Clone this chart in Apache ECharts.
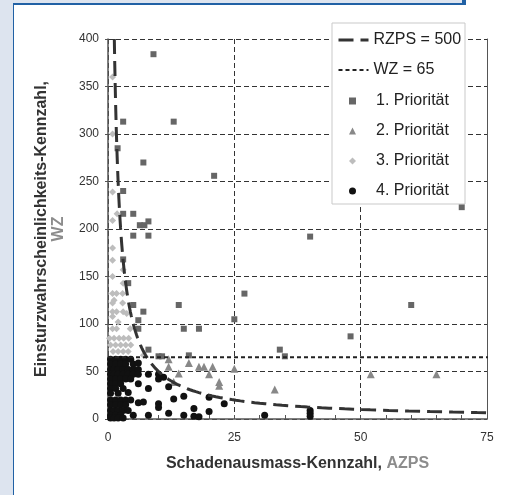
<!DOCTYPE html>
<html>
<head>
<meta charset="utf-8">
<script src="https://cdn.jsdelivr.net/npm/echarts@6/dist/echarts.min.js"></script>
<style>
html, body { margin: 0; padding: 0; background: #dde4ef; }
.blk { position: absolute; }
#main { position: absolute; left: 0; top: 0; width: 507px; height: 495px; }
</style>
</head>
<body>
<div class="blk" style="left:14px;top:5px;width:493px;height:490px;background:#fff"></div>
<div class="blk" style="left:466px;top:0;width:41px;height:5px;background:#fff"></div>
<div class="blk" style="left:13px;top:3px;width:1px;height:492px;background:#2161a5"></div>
<div class="blk" style="left:13px;top:3px;width:450px;height:2px;background:#2161a5"></div>
<div class="blk" style="left:462px;top:0;width:4px;height:5px;background:#2161a5"></div>
<div id="main"></div>
<script>
// reference lines
const RZPS = 500
const WZ_LIMIT = 65
const X_MAX = 75
const Y_MAX = 400
const LINE_END = 75.6 // lines run slightly past the frame in the original

// [AZPS, WZ]
const prio1 = [
    [9, 384], [3, 313], [13, 313], [1.9, 285], [7, 270], [21, 256], [3, 240],
    [3, 216], [5, 216], [6.3, 204], [7.2, 204], [8, 208], [5, 193], [8, 193],
    [3, 168], [4, 143], [5, 120], [14, 120], [7, 113], [6, 104], [6, 95],
    [15, 95], [18, 95], [25, 105], [8, 73], [10, 66], [10.7, 66], [16, 67],
    [40, 192], [27, 132], [60, 120], [48, 87], [34, 73], [35, 66], [70, 223]
]
const prio2 = [
    [12, 63], [12, 55], [13, 39], [14, 48], [16, 59], [18, 55], [19, 55],
    [20.7, 55], [20, 47], [22, 39], [22, 35], [25, 53], [33, 31], [52, 47], [65, 47]
]
const prio3 = [
    [0.9, 360], [0.9, 300], [0.9, 239], [1.8, 216], [0.9, 209], [0.9, 180],
    [0.9, 167], [0.9, 150], [3, 157], [3, 143], [0.9, 132], [1.7, 132], [2.9, 132],
    [1.2, 125], [0.9, 122], [2.9, 122], [0.9, 113], [1.7, 113], [3, 113], [3.7, 111],
    [0.9, 108], [2, 102], [0.9, 95], [1.7, 95], [4.4, 95], [0.3, 85], [1.2, 85],
    [2.2, 85], [3.1, 85], [4.1, 85], [0.5, 78], [1.5, 78], [2.5, 78], [3.5, 78],
    [4.5, 78], [1, 71], [2, 71], [3, 71], [4, 71], [7, 67]
]
const prio4 = [
    [0.5, 63], [1.5, 63], [2.5, 63], [3.5, 63], [4.5, 63],
    [0.5, 58], [1.5, 58], [2.5, 58], [3.5, 58], [5, 58], [6, 59],
    [0.5, 52], [1.2, 52], [2, 52], [3, 52], [4, 52], [5, 52], [6, 52],
    [0.5, 47], [1.2, 47], [2, 47], [3, 47], [4, 47], [5, 47], [6, 47], [8, 47], [10, 47],
    [0.5, 42], [1.5, 42], [2.5, 42], [3.5, 42], [4.5, 42], [10, 42], [11, 44],
    [0.5, 37], [1.5, 37], [2.5, 37], [6, 37], [12, 34],
    [0.5, 32], [1.5, 32], [3, 32], [8, 32],
    [0.5, 27], [2, 27], [4, 28],
    [0.5, 20], [1.5, 20], [2.5, 20], [3.5, 20], [4.5, 20], [6, 17], [7, 18], [10, 16],
    [13, 21], [15, 24], [20, 23],
    [0.5, 15], [1.5, 15], [2.5, 15], [3.5, 15], [10, 12], [17, 11], [23, 16],
    [0.5, 9], [1.2, 9], [2, 9], [3, 9], [4, 9], [12, 6], [20, 8], [40, 9],
    [0.5, 4], [1.5, 4], [2.5, 4], [5, 4], [8, 4], [15, 4], [17, 3], [18, 2.5], [31, 4], [40, 6],
    [0.5, 1], [1.2, 1], [2, 1], [3, 1], [40, 3]
]

// iso-line AZPS * WZ = RZPS
const rzpsLine = []
const x0 = RZPS / Y_MAX
for (let i = 0; i <= 120; i++) {
    const x = x0 * Math.pow(LINE_END / x0, i / 120)
    rzpsLine.push([x, RZPS / x])
}
const wzLine = [[0, WZ_LIMIT], [LINE_END, WZ_LIMIT]]

const font = 'Liberation Sans, Arial, sans-serif'
const axisColor = '#555'
const gridDash = { color: '#333', width: 1, type: [5, 3] }
const noFill = 'rgba(0,0,0,0)'

const chart = echarts.init(document.getElementById('main'), null, { renderer: 'canvas' })
chart.setOption({
    animation: false,
    backgroundColor: 'transparent',
    textStyle: { fontFamily: font },
    grid: { left: 108, right: 20, top: 39, bottom: 76, outerBoundsMode: 'none' },
    graphic: [{
        type: 'rect', z: 3,
        shape: { x: 332, y: 23, width: 133, height: 181 },
        style: { fill: '#fff', stroke: '#c9c9c9', lineWidth: 1 }
    }],
    legend: [{
        data: ['RZPS = 500', 'WZ = 65'],
        orient: 'vertical', left: 337, top: 32, padding: 0,
        itemWidth: 30, itemHeight: 14, itemGap: 14,
        selectedMode: false,
        lineStyle: { width: 'inherit' },
        textStyle: { fontSize: 16, color: '#222', fontFamily: font }
    }, {
        data: [
            { name: '1. Priorität', icon: 'rect' },
            { name: '2. Priorität', icon: 'triangle' },
            { name: '3. Priorität', icon: 'diamond' },
            { name: '4. Priorität', icon: 'circle' }
        ],
        orient: 'vertical', left: 349, top: 93, padding: 0,
        itemWidth: 7, itemHeight: 7, itemGap: 14,
        selectedMode: false,
        textStyle: { fontSize: 16, color: '#222', fontFamily: font, padding: [0, 0, 0, 15] }
    }],
    xAxis: {
        type: 'value', min: 0, max: X_MAX, interval: 25,
        axisLine: { lineStyle: { color: axisColor, width: 1.5 } },
        axisTick: { show: true, inside: true, length: 4, lineStyle: { color: axisColor } },
        minorTick: { show: true, splitNumber: 5, length: 4, lineStyle: { color: axisColor } },
        splitLine: { show: true, lineStyle: gridDash },
        axisLabel: { fontSize: 12, color: '#333', margin: 13, fontFamily: font },
        name: '{a|Schadenausmass-Kennzahl, }{b|AZPS}',
        nameLocation: 'middle', nameGap: 37,
        nameTextStyle: {
            rich: {
                a: { fontSize: 16, fontWeight: 'bold', color: '#333', fontFamily: font },
                b: { fontSize: 16, fontWeight: 'bold', color: '#8c8c8c', fontFamily: font }
            }
        }
    },
    yAxis: [{
        type: 'value', min: 0, max: Y_MAX, interval: 50,
        axisLine: { show: true, lineStyle: { color: axisColor, width: 1.5 } },
        axisTick: { show: true, length: 3, lineStyle: { color: axisColor } },
        splitLine: { show: true, lineStyle: gridDash },
        axisLabel: { fontSize: 12, color: '#333', margin: 9, fontFamily: 'Liberation Sans Narrow, Arial Narrow, sans-serif' },
        name: '{a|Einsturzwahrscheinlichkeits-Kennzahl,}\n{b|WZ}',
        nameLocation: 'middle', nameRotate: 90, nameGap: 41,
        nameTextStyle: {
            lineHeight: 17,
            rich: {
                a: { fontSize: 16, fontWeight: 'bold', color: '#333', fontFamily: font, lineHeight: 17 },
                b: { fontSize: 16, fontWeight: 'bold', color: '#8c8c8c', fontFamily: font, lineHeight: 17 }
            }
        }
    }, {
        type: 'value', position: 'right', min: 0, max: Y_MAX, interval: 50,
        axisLine: { show: true, onZero: false, lineStyle: { color: axisColor, width: 1 } },
        axisTick: { show: false }, axisLabel: { show: false }, splitLine: { show: false }
    }],
    series: [{
        name: 'RZPS = 500', type: 'line', data: rzpsLine, symbol: 'none', clip: false, z: 3,
        itemStyle: { color: noFill },
        lineStyle: { color: '#333', width: 3, type: [15, 7] }
    }, {
        name: 'WZ = 65', type: 'line', data: wzLine, symbol: 'none', clip: false, z: 3,
        itemStyle: { color: noFill },
        lineStyle: { color: '#222', width: 2, type: [4, 3] }
    }, {
        name: '1. Priorität', type: 'scatter', data: prio1, symbol: 'rect', symbolSize: 6,
        itemStyle: { color: '#666', opacity: 1 }
    }, {
        name: '2. Priorität', type: 'scatter', data: prio2, symbol: 'triangle', symbolSize: 8,
        itemStyle: { color: '#888', opacity: 1 }
    }, {
        name: '3. Priorität', type: 'scatter', data: prio3, symbol: 'diamond', symbolSize: 7,
        itemStyle: { color: '#bdbdbd', opacity: 1 }
    }, {
        name: '4. Priorität', type: 'scatter', data: prio4, symbol: 'circle', symbolSize: 7,
        itemStyle: { color: '#111', opacity: 1 }
    }]
})
</script>
</body>
</html>
